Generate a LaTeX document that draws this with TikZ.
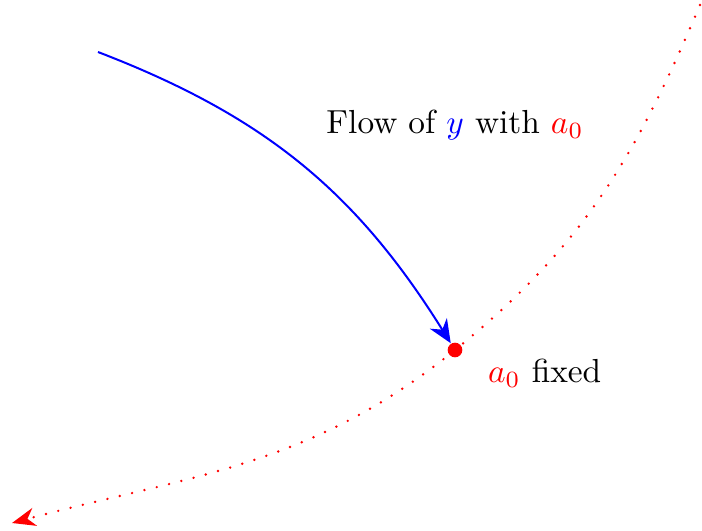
\documentclass[tikz,border=0pt]{standalone}
\usepackage{amsmath}
\usetikzlibrary{arrows.meta,positioning}

\begin{document}
\begin{tikzpicture}[x=0.3pt,y=0.3pt,
 flow/.style={blue,semithick,-{Stealth[length=7pt,width=6pt,inset=2.2pt]}},
 fixed/.style={red,line width=0.8pt,line cap=round,dash pattern=on 0pt off 3.8pt,-{Stealth[length=7pt,width=5.5pt,inset=2.2pt]}},
 pt/.style={circle,fill=red,inner sep=0pt,minimum size=4.4pt}]
\useasboundingbox (0,0) rectangle (702,531);
\coordinate (top) at (700,526);
\coordinate (fix) at (455,181);
\coordinate (end) at (12,8);
\coordinate (start) at (98,479);
\draw[fixed] (top) to[out=-113,in=39] (fix) to[out=-141,in=15] (end);
\node[pt] (dot) at (fix) {};
\draw[flow] (start) to[out=-21,in=122] (dot);
\node (flowlbl) at (455,406) {Flow of \textcolor{blue}{$y$} with \textcolor{red}{$a_0$}};
\node[right=4pt of dot,yshift=-7pt] (fixlbl) {\textcolor{red}{$a_0$} fixed};
\end{tikzpicture}
\end{document}
